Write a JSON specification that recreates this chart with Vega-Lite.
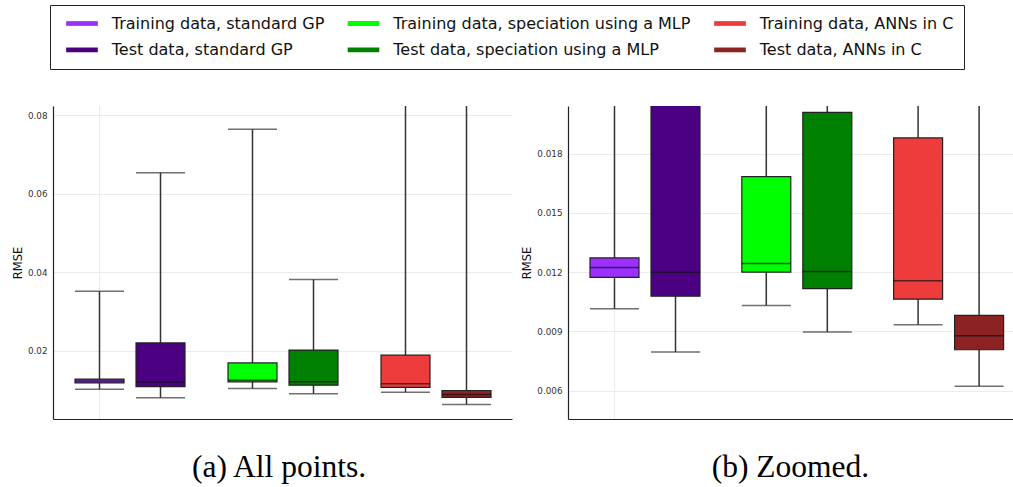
{
  "$schema": "https://vega.github.io/schema/vega-lite/v6.json",
  "padding": {"left": 12, "top": 4, "right": 0, "bottom": 0},
  "spacing": 9,
  "data": {"values": [
    {"group": "GP", "set": "Training", "series": "Training data, standard GP", "lower": 0.01015, "q1": 0.01174, "median": 0.01224, "q3": 0.01272, "upper": 0.0351},
    {"group": "GP", "set": "Test", "series": "Test data, standard GP", "lower": 0.00795, "q1": 0.01078, "median": 0.01200, "q3": 0.02194, "upper": 0.0653},
    {"group": "MLP", "set": "Training", "series": "Training data, speciation using a MLP", "lower": 0.01031, "q1": 0.01200, "median": 0.01244, "q3": 0.01684, "upper": 0.0764},
    {"group": "MLP", "set": "Test", "series": "Test data, speciation using a MLP", "lower": 0.00897, "q1": 0.01117, "median": 0.01203, "q3": 0.0201, "upper": 0.0381},
    {"group": "C", "set": "Training", "series": "Training data, ANNs in C", "lower": 0.00934, "q1": 0.01063, "median": 0.01156, "q3": 0.0188, "upper": 0.1},
    {"group": "C", "set": "Test", "series": "Test data, ANNs in C", "lower": 0.00622, "q1": 0.00807, "median": 0.00878, "q3": 0.00981, "upper": 0.11}
  ]},
  "hconcat": [
    {
      "width": 452,
      "height": 313,
      "title": {"text": "(a) All points.", "orient": "bottom", "anchor": "middle", "font": "Liberation Serif", "fontSize": 31.5, "fontWeight": "normal", "color": "#000000", "offset": 32.5},
      "encoding": {
        "x": {"field": "group", "type": "nominal", "sort": ["GP", "MLP", "C"], "scale": {"domain": ["GP", "MLP", "C"], "range": [0, 459], "paddingInner": 0, "paddingOuter": 0}, "axis": {"labels": false, "ticks": false, "grid": false, "title": null, "domainColor": "#222222", "domainWidth": 1.2}},
        "xOffset": {"field": "set", "type": "nominal", "sort": ["Training", "Test"], "scale": {"domain": ["Training", "Test"], "range": [22, 132], "paddingInner": 0.197, "paddingOuter": 0}}
      },
      "layer": [
        {"transform": [{"filter": "datum.group == 'GP' && datum.set == 'Training'"}], "mark": {"type": "rule", "color": "#ebebeb", "strokeWidth": 1}, "encoding": {}},
        {"mark": {"type": "rule", "color": "#333333", "strokeWidth": 1.5, "clip": true},
          "encoding": {
            "y": {"field": "lower", "type": "quantitative", "scale": {"domain": [0.00255, 0.0823], "nice": false, "zero": false}, "axis": {"values": [0.02, 0.04, 0.06, 0.08], "format": ".2f", "title": "RMSE"}},
            "y2": {"field": "upper"}}},
        {"mark": {"type": "bar", "stroke": "#222222", "strokeWidth": 1.2, "clip": true},
          "encoding": {
            "y": {"field": "q1", "type": "quantitative"},
            "y2": {"field": "q3"},
            "color": {"field": "series", "type": "nominal", "title": null,
              "scale": {"domain": ["Training data, standard GP", "Test data, standard GP", "Training data, speciation using a MLP", "Test data, speciation using a MLP", "Training data, ANNs in C", "Test data, ANNs in C"],
                        "range": ["#9b30ff", "#4b0082", "#00ff00", "#008000", "#ee3b3b", "#8b2323"]},
              "legend": {"orient": "none", "legendX": -3, "legendY": -101, "columns": 3}}}},
        {"mark": {"type": "tick", "color": "#111111", "thickness": 1.5, "size": 49, "clip": true},
          "encoding": {"y": {"field": "median", "type": "quantitative"}}},
        {"mark": {"type": "tick", "color": "#333333", "thickness": 1.5, "size": 49, "clip": true},
          "encoding": {"y": {"field": "lower", "type": "quantitative"}}},
        {"mark": {"type": "tick", "color": "#333333", "thickness": 1.5, "size": 49, "clip": true},
          "encoding": {"y": {"field": "upper", "type": "quantitative"}}}
      ]
    },
    {
      "width": 445,
      "height": 313,
      "title": {"text": "(b) Zoomed.", "orient": "bottom", "anchor": "middle", "font": "Liberation Serif", "fontSize": 31.5, "fontWeight": "normal", "color": "#000000", "offset": 32.5},
      "encoding": {
        "x": {"field": "group", "type": "nominal", "sort": ["GP", "MLP", "C"], "scale": {"domain": ["GP", "MLP", "C"], "range": [0, 455.4], "paddingInner": 0, "paddingOuter": 0}, "axis": {"labels": false, "ticks": false, "grid": false, "title": null, "domainColor": "#222222", "domainWidth": 1.2}},
        "xOffset": {"field": "set", "type": "nominal", "sort": ["Training", "Test"], "scale": {"domain": ["Training", "Test"], "range": [21, 131], "paddingInner": 0.197, "paddingOuter": 0}}
      },
      "layer": [
        {"transform": [{"filter": "datum.group == 'GP' && datum.set == 'Training'"}], "mark": {"type": "rule", "color": "#ebebeb", "strokeWidth": 1}, "encoding": {}},
        {"mark": {"type": "rule", "color": "#333333", "strokeWidth": 1.5, "clip": true},
          "encoding": {
            "y": {"field": "lower", "type": "quantitative", "scale": {"domain": [0.00456, 0.02042], "nice": false, "zero": false}, "axis": {"values": [0.006, 0.009, 0.012, 0.015, 0.018], "format": ".3f", "title": "RMSE"}},
            "y2": {"field": "upper"}}},
        {"mark": {"type": "bar", "stroke": "#222222", "strokeWidth": 1.2, "clip": true},
          "encoding": {
            "y": {"field": "q1", "type": "quantitative"},
            "y2": {"field": "q3"},
            "color": {"field": "series", "type": "nominal", "title": null}}},
        {"mark": {"type": "tick", "color": "#111111", "thickness": 1.5, "size": 49, "clip": true},
          "encoding": {"y": {"field": "median", "type": "quantitative"}}},
        {"mark": {"type": "tick", "color": "#333333", "thickness": 1.5, "size": 49, "clip": true},
          "encoding": {"y": {"field": "lower", "type": "quantitative"}}},
        {"mark": {"type": "tick", "color": "#333333", "thickness": 1.5, "size": 49, "clip": true},
          "encoding": {"y": {"field": "upper", "type": "quantitative"}}}
      ]
    }
  ],
  "config": {
    "view": {"stroke": null},
    "axisY": {"labelFont": "DejaVu Sans", "labelFontSize": 8.8, "labelColor": "#333333", "titleFont": "DejaVu Sans", "titleFontSize": 11.5, "titleFontWeight": "normal", "titleColor": "#111111", "titlePadding": 4, "labelPadding": 6, "ticks": false, "grid": true, "gridColor": "#ebebeb", "gridWidth": 1, "domainColor": "#222222", "domainWidth": 1.2},
    "legend": {"labelFont": "DejaVu Sans", "labelFontSize": 16, "labelColor": "#111111", "labelLimit": 0, "symbolType": "M-2,-0.3H2V0.3H-2Z", "symbolSize": 251, "symbolStrokeWidth": 0, "symbolOffset": 13.5, "labelOffset": 21.8, "padding": 10.5, "rowPadding": 10.4, "columnPadding": 17.5, "strokeColor": "#222222"}
  }
}
